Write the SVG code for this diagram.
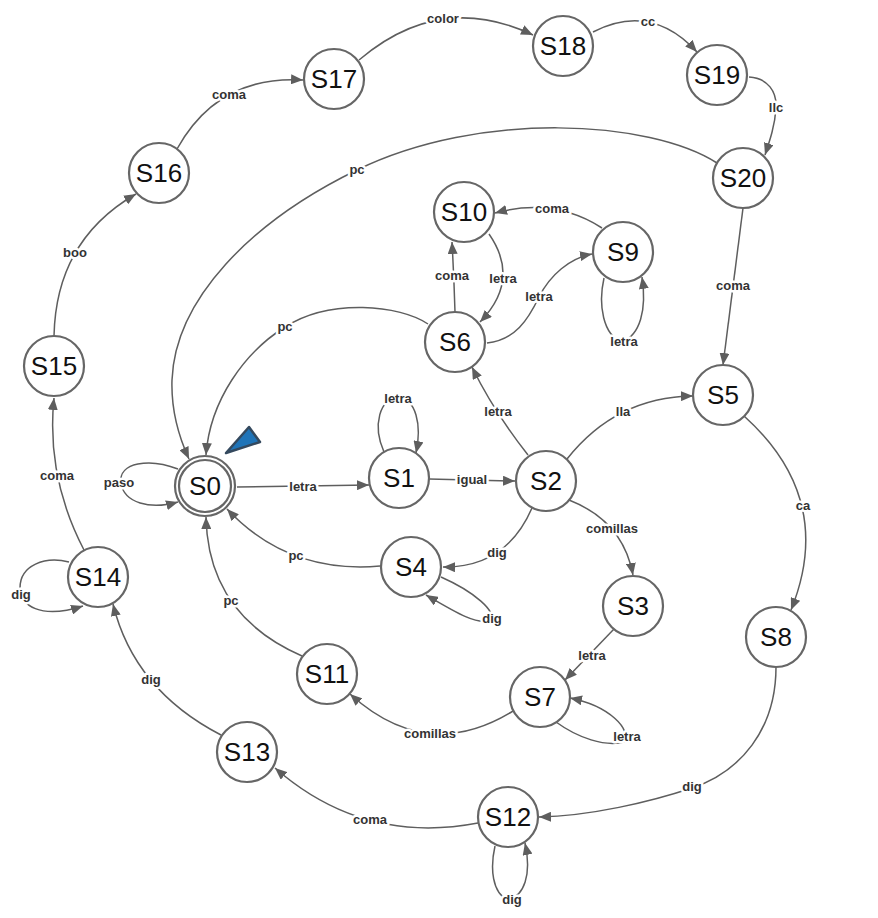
<svg xmlns="http://www.w3.org/2000/svg" width="878" height="918" viewBox="0 0 878 918">
<style>
.n{fill:#fff;stroke:#666;stroke-width:2.2}
.nt{font-family:"Liberation Sans",Arial,sans-serif;font-size:26px;fill:#111;text-anchor:middle}
.e{fill:none;stroke:#5e5e5e;stroke-width:1.5;marker-end:url(#ah)}
.l{font-family:"Liberation Sans",Arial,sans-serif;font-size:13px;font-weight:bold;fill:#333;text-anchor:middle;stroke:#fff;stroke-width:5;paint-order:stroke;stroke-linejoin:round}
</style>
<defs>
<marker id="ah" markerUnits="userSpaceOnUse" viewBox="0 0 12 10" refX="12" refY="5" markerWidth="12" markerHeight="10" orient="auto">
<path d="M0,0 L12,5 L0,10 z" fill="#5e5e5e"/>
</marker>
</defs>
<rect width="878" height="918" fill="#fff"/>
<g id="connectors">
<path class="e" d="M237,487 L369,485"/>
<path class="e" d="M178,469 C150,458 118,462 121,483 C124,503 150,510 178,502"/>
<path class="e" d="M384,452 C372,425 380,398 398,398 C416,398 422,425 416,453"/>
<path class="e" d="M429,479 L515,481"/>
<path class="e" d="M528,455 Q494,412 472,367"/>
<path class="e" d="M567,459 Q616,397 693,396"/>
<path class="e" d="M569,500 Q623,521 633,575"/>
<path class="e" d="M532,508 Q506,568 443,567"/>
<path class="e" d="M441,577 C475,592 497,612 490,620 C478,626 455,612 426,595"/>
<path class="e" d="M380,566 Q288,574 227,509"/>
<path class="e" d="M302,656 Q208,615 206,517"/>
<path class="e" d="M614,629 L565,680"/>
<path class="e" d="M556,722 C578,738 605,747 624,742 C632,730 610,706 570,698"/>
<path class="e" d="M513,711 Q427,764 350,694"/>
<path class="e" d="M744,416 Q836,499 791,610"/>
<path class="e" d="M776,667 C776,730 740,772 692,788 C650,802 590,816 539,817"/>
<path class="e" d="M495,846 C490,868 492,893 508,900 C524,896 532,875 525,843"/>
<path class="e" d="M478,823 Q363,845 275,768"/>
<path class="e" d="M221,735 Q134,690 113,604"/>
<path class="e" d="M69,562 C45,556 20,565 20,588 C20,605 40,620 83,606"/>
<path class="e" d="M84,550 Q46,477 54,398"/>
<path class="e" d="M54,336 Q56,240 136,194"/>
<path class="e" d="M177,149 Q218,75 303,80"/>
<path class="e" d="M359,60 Q440,-9 533,35"/>
<path class="e" d="M593,32 Q651,2 697,52"/>
<path class="e" d="M749,77 C768,78 777,92 776,108 C775,125 770,140 765,155"/>
<path class="e" d="M717,163 C650,120 480,110 357,170 C250,222 175,300 172,380 C171,410 178,435 189,459"/>
<path class="e" d="M428,324 C400,305 330,298 285,327 C245,352 210,400 206,455"/>
<path class="e" d="M455,312 Q454,278 452,242"/>
<path class="e" d="M489,234 Q521,280 480,322"/>
<path class="e" d="M487,343 C515,340 528,320 539,297 C550,275 570,258 592,254"/>
<path class="e" d="M602,228 Q554,197 495,213"/>
<path class="e" d="M604,278 C598,305 603,335 622,342 C640,335 647,310 642,277"/>
<path class="e" d="M743,208 Q734,280 723,365"/>
<text class="l" x="303" y="491">letra</text>
<text class="l" x="119" y="487">paso</text>
<text class="l" x="398" y="403">letra</text>
<text class="l" x="472" y="484">igual</text>
<text class="l" x="498" y="416">letra</text>
<text class="l" x="623" y="416">lla</text>
<text class="l" x="612" y="533">comillas</text>
<text class="l" x="497" y="557">dig</text>
<text class="l" x="492" y="623">dig</text>
<text class="l" x="296" y="560">pc</text>
<text class="l" x="231" y="605">pc</text>
<text class="l" x="592" y="660">letra</text>
<text class="l" x="627" y="741">letra</text>
<text class="l" x="430" y="738">comillas</text>
<text class="l" x="803" y="510">ca</text>
<text class="l" x="692" y="791">dig</text>
<text class="l" x="512" y="904">dig</text>
<text class="l" x="370" y="824">coma</text>
<text class="l" x="151" y="684">dig</text>
<text class="l" x="21" y="599">dig</text>
<text class="l" x="57" y="480">coma</text>
<text class="l" x="75" y="257">boo</text>
<text class="l" x="229" y="99">coma</text>
<text class="l" x="443" y="23">color</text>
<text class="l" x="648" y="26">cc</text>
<text class="l" x="776" y="112">llc</text>
<text class="l" x="357" y="174">pc</text>
<text class="l" x="285" y="331">pc</text>
<text class="l" x="452" y="280">coma</text>
<text class="l" x="503" y="283">letra</text>
<text class="l" x="539" y="301">letra</text>
<text class="l" x="552" y="213">coma</text>
<text class="l" x="624" y="346">letra</text>
<text class="l" x="733" y="290">coma</text>
</g>
<g id="S0"><circle class="n" cx="205" cy="486" r="30"/><circle class="n" cx="205" cy="486" r="26"/><text class="nt" x="205" y="495">S0</text></g>
<g id="S1"><circle class="n" cx="399" cy="478" r="30"/><text class="nt" x="399" y="487">S1</text></g>
<g id="S2"><circle class="n" cx="546" cy="481" r="30"/><text class="nt" x="546" y="490">S2</text></g>
<g id="S3"><circle class="n" cx="633" cy="606" r="30"/><text class="nt" x="633" y="615">S3</text></g>
<g id="S4"><circle class="n" cx="411" cy="567" r="30"/><text class="nt" x="411" y="576">S4</text></g>
<g id="S5"><circle class="n" cx="723" cy="395" r="30"/><text class="nt" x="723" y="404">S5</text></g>
<g id="S6"><circle class="n" cx="455" cy="342" r="30"/><text class="nt" x="455" y="351">S6</text></g>
<g id="S7"><circle class="n" cx="540" cy="697" r="30"/><text class="nt" x="540" y="706">S7</text></g>
<g id="S8"><circle class="n" cx="776" cy="637" r="30"/><text class="nt" x="776" y="646">S8</text></g>
<g id="S9"><circle class="n" cx="623" cy="252" r="30"/><text class="nt" x="623" y="261">S9</text></g>
<g id="S10"><circle class="n" cx="464" cy="212" r="30"/><text class="nt" x="464" y="221">S10</text></g>
<g id="S11"><circle class="n" cx="327" cy="674" r="30"/><text class="nt" x="327" y="683">S11</text></g>
<g id="S12"><circle class="n" cx="508" cy="817" r="30"/><text class="nt" x="508" y="826">S12</text></g>
<g id="S13"><circle class="n" cx="247" cy="752" r="30"/><text class="nt" x="247" y="761">S13</text></g>
<g id="S14"><circle class="n" cx="98" cy="577" r="30"/><text class="nt" x="98" y="586">S14</text></g>
<g id="S15"><circle class="n" cx="54" cy="366" r="30"/><text class="nt" x="54" y="375">S15</text></g>
<g id="S16"><circle class="n" cx="159" cy="173" r="30"/><text class="nt" x="159" y="182">S16</text></g>
<g id="S17"><circle class="n" cx="334" cy="79" r="30"/><text class="nt" x="334" y="88">S17</text></g>
<g id="S18"><circle class="n" cx="563" cy="46" r="30"/><text class="nt" x="563" y="55">S18</text></g>
<g id="S19"><circle class="n" cx="717" cy="75" r="30"/><text class="nt" x="717" y="84">S19</text></g>
<g id="S20"><circle class="n" cx="743" cy="178" r="30"/><text class="nt" x="743" y="187">S20</text></g>
<g id="start-marker"><polygon points="226,453 249,427 260,442" fill="#1f74b8" stroke="#34495e" stroke-width="2.5" stroke-linejoin="round"/></g>
</svg>
